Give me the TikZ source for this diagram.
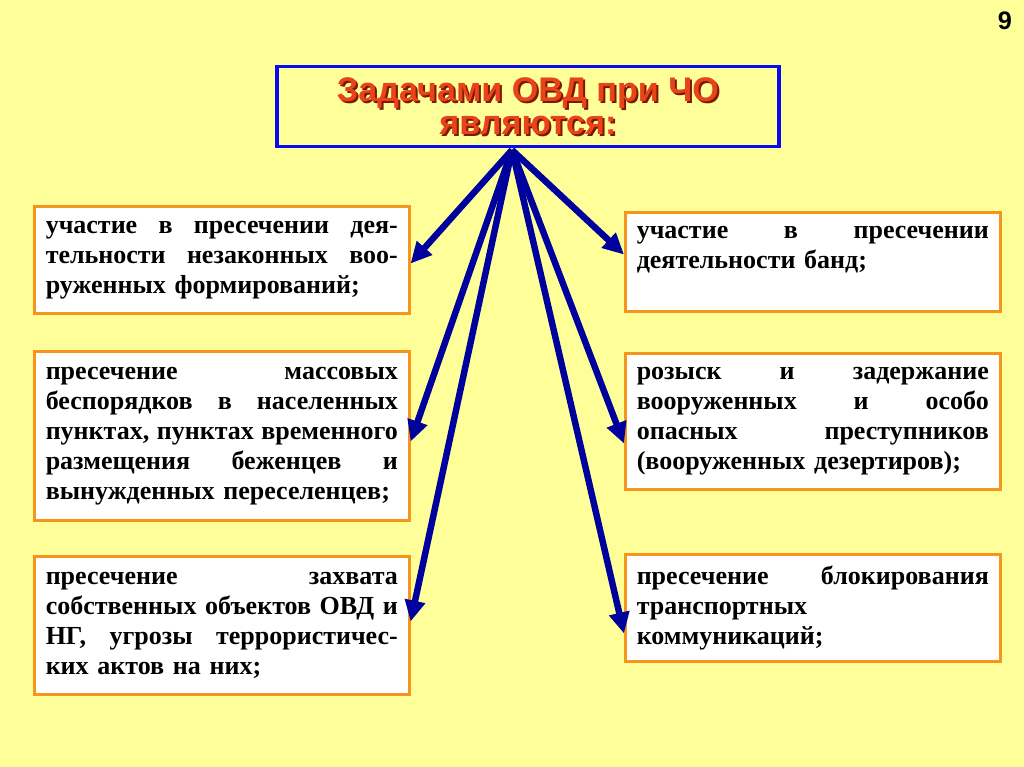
\documentclass[tikz,border=0pt]{standalone}
\usepackage{fontspec}
\usepackage{tikz}
\usetikzlibrary{arrows.meta,calc}
\setmainfont{Liberation Serif}
\newfontfamily\zagfont{Liberation Sans}

% ширина текста в рамке и строка, растянутая на всю ширину
\newlength{\shir}
\setlength{\shir}{8.8cm}
\newcommand{\stroka}[1]{\makebox[\shir][s]{\spaceskip=0pt\xspaceskip=0pt #1}}

\begin{document}
\begin{tikzpicture}[x=0.025cm,y=-0.025cm]

% Цвета
\definecolor{colFon}{HTML}{FFFF99}
\definecolor{colRamka}{HTML}{F7941D}
\definecolor{colSin}{HTML}{0A0AF0}
\definecolor{colStrel}{HTML}{00009C}
\definecolor{colZag}{HTML}{E8431A}
\definecolor{colTen}{HTML}{7A1A00}

\tikzset{
  zadacha/.style={draw=colRamka, fill=white, line width=2.2pt, anchor=north west,
    text width=\shir, inner xsep=0.28cm, inner ysep=0pt, align=left,
    font=\fontsize{18.5}{21.3}\selectfont\bfseries},
  strelka/.style={draw=colStrel, line width=4.6pt, -{Triangle[length=15pt,width=14pt]}},
  zagshrift/.style={align=center, font=\zagfont\fontsize{24.3}{23.5}\selectfont\bfseries}
}

% Фон
\fill[colFon] (0,0) rectangle (1024,767);
\useasboundingbox (0,0) rectangle (1024,767);

% Номер слайда
\node[font=\zagfont\fontsize{18}{20}\selectfont\bfseries] (nomer) at (1005,21) {9};

% Заголовок
\node[zagshrift, text=colTen] (ten) at (530,108) {Задачами ОВД при ЧО\\являются:};
\node[zagshrift, draw=colSin, line width=2.8pt, minimum width=12.55cm, minimum height=2cm,
  text=colZag] (zag) at (528,106.5) {Задачами ОВД при ЧО\\являются:};

% Левые рамки
\node[zadacha, minimum height=2.675cm] (L1) at (33,205)
  {\stroka{участие в пресечении дея-}\\\stroka{тельности незаконных воо-}\\руженных формирований;};
\node[zadacha, minimum height=4.225cm] (L2) at (33,350)
  {\stroka{пресечение массовых}\\\stroka{беспорядков в населенных}\\\stroka{пунктах, пунктах временного}\\\stroka{размещения беженцев и}\\вынужденных переселенцев;};
\node[zadacha, minimum height=3.45cm] (L3) at (33,555)
  {\stroka{пресечение захвата}\\\stroka{собственных объектов ОВД и}\\\stroka{НГ, угрозы террористичес-}\\ких актов на них;};

% Правые рамки
\node[zadacha, minimum height=2.475cm] (R1) at (624,211)
  {\stroka{участие в пресечении}\\деятельности банд;\\\mbox{}};
\node[zadacha, minimum height=3.4cm] (R2) at (624,352)
  {\stroka{розыск и задержание}\\\stroka{вооруженных и особо}\\\stroka{опасных преступников}\\(вооруженных дезертиров);};
\node[zadacha, minimum height=2.675cm] (R3) at (624,553)
  {\stroka{пресечение блокирования}\\транспортных\\коммуникаций;};

% Стрелки
\coordinate (verh) at (512,150);
\draw[strelka] (verh) -- ($(L1.east)+(0,3.5)$);
\draw[strelka] (verh) -- ($(L2.east)+(0,5.5)$);
\draw[strelka] (verh) -- ($(L3.east)+(0,-4)$);
\draw[strelka] (verh) -- ($(R1.west)+(0,-7.5)$);
\draw[strelka] (verh) -- ($(R2.west)+(0,22)$);
\draw[strelka] (verh) -- ($(R3.west)+(0,25.5)$);

\end{tikzpicture}
\end{document}
